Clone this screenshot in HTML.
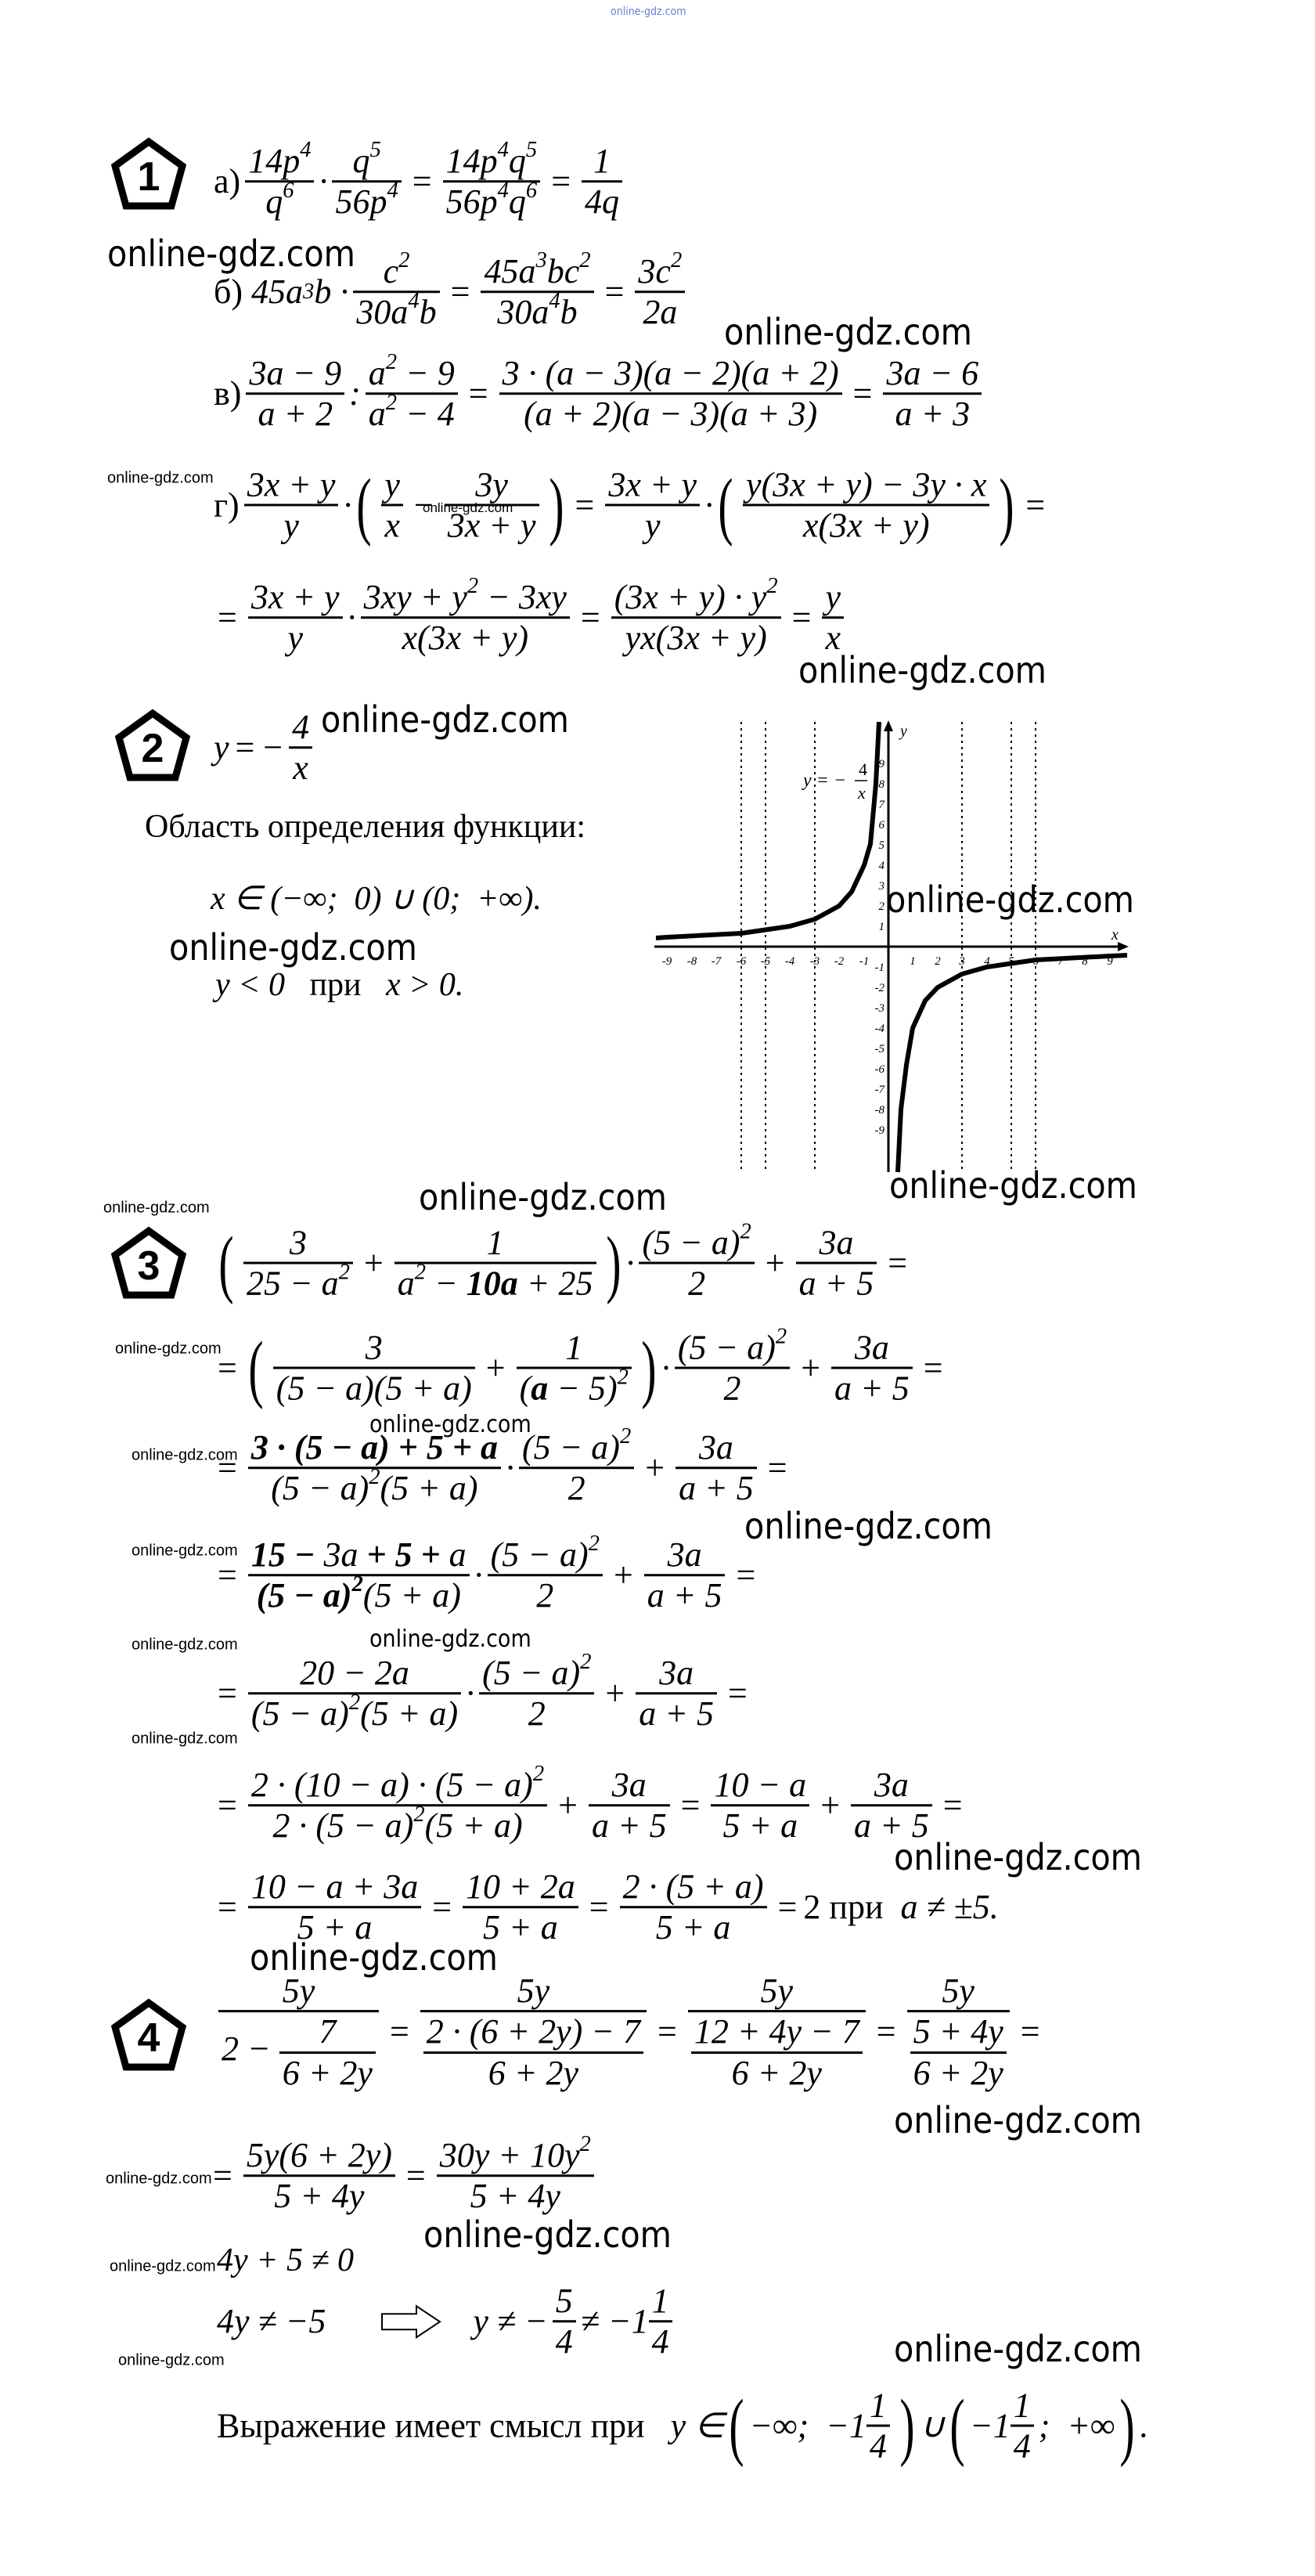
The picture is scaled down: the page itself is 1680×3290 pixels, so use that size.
<!DOCTYPE html>
<html><head><meta charset="utf-8"><style>
body{margin:0;width:1680px;height:3290px;background:#fff;position:relative;overflow:hidden;font-family:"Liberation Serif",serif;color:#000}
.l{position:absolute;display:flex;align-items:center;transform:translateY(-50%);font-size:44px;white-space:nowrap;font-style:italic}
.fr{display:inline-flex;flex-direction:column;align-items:stretch;vertical-align:middle;margin:0 6px}
.fr>span{padding:0 4px;line-height:1.12;text-align:center;display:block}
.fr>span+span{border-top:3px solid #000}
sup{font-size:0.65em;line-height:0;vertical-align:0.7em}
.n{font-style:normal}
.op{margin:0 8px;font-style:normal}
.p{font-size:96px;font-style:normal;font-weight:100;transform:scaleX(.6);display:inline-block}
.w{position:absolute;font-family:"DejaVu Sans Condensed","DejaVu Sans",sans-serif;color:#000;white-space:nowrap;transform:translateY(-80%)}
.wb{font-size:46px}
.ws{font-size:20px;font-family:"Liberation Sans Narrow","Liberation Sans",sans-serif}
.wm{font-size:30px}
.badge{position:absolute}
.t{position:absolute;font-size:42px;transform:translateY(-50%);white-space:nowrap}
</style></head><body>

<div class="w" style="left:780px;top:20px;font-size:14px;color:#6a7fd0">online-gdz.com</div>

<svg class="badge" style="left:140px;top:175px" width="100" height="95" viewBox="0 0 100 95"><polygon points="50,6 93,37 79,88 21,88 7,37" fill="none" stroke="#000" stroke-width="9"/><text x="50" y="68" text-anchor="middle" font-family="Liberation Sans" font-weight="bold" font-size="52">1</text></svg>
<svg class="badge" style="left:145px;top:905px" width="100" height="95" viewBox="0 0 100 95"><polygon points="50,6 93,37 79,88 21,88 7,37" fill="none" stroke="#000" stroke-width="9"/><text x="50" y="68" text-anchor="middle" font-family="Liberation Sans" font-weight="bold" font-size="52">2</text></svg>
<svg class="badge" style="left:140px;top:1566px" width="100" height="95" viewBox="0 0 100 95"><polygon points="50,6 93,37 79,88 21,88 7,37" fill="none" stroke="#000" stroke-width="9"/><text x="50" y="68" text-anchor="middle" font-family="Liberation Sans" font-weight="bold" font-size="52">3</text></svg>
<svg class="badge" style="left:140px;top:2552px" width="100" height="95" viewBox="0 0 100 95"><polygon points="50,6 93,37 79,88 21,88 7,37" fill="none" stroke="#000" stroke-width="9"/><text x="50" y="68" text-anchor="middle" font-family="Liberation Sans" font-weight="bold" font-size="52">4</text></svg>

<!-- task 1 -->
<div class="l" style="left:273px;top:232px"><span class="n">а)</span><span class="fr"><span>14p<sup>4</sup></span><span>q<sup>6</sup></span></span>·<span class="fr"><span>q<sup>5</sup></span><span>56p<sup>4</sup></span></span><span class="op">=</span><span class="fr"><span>14p<sup>4</sup>q<sup>5</sup></span><span>56p<sup>4</sup>q<sup>6</sup></span></span><span class="op">=</span><span class="fr"><span>1</span><span>4q</span></span></div>
<div class="w wb" style="left:137px;top:340px">online-gdz.com</div>
<div class="l" style="left:273px;top:373px"><span class="n">б)</span>&nbsp;45a<sup>3</sup>b ·<span class="fr"><span>c<sup>2</sup></span><span>30a<sup>4</sup>b</span></span><span class="op">=</span><span class="fr"><span>45a<sup>3</sup>bc<sup>2</sup></span><span>30a<sup>4</sup>b</span></span><span class="op">=</span><span class="fr"><span>3c<sup>2</sup></span><span>2a</span></span></div>
<div class="w wb" style="left:925px;top:440px">online-gdz.com</div>
<div class="l" style="left:273px;top:503px"><span class="n">в)</span><span class="fr"><span>3a − 9</span><span>a + 2</span></span>:<span class="fr"><span>a<sup>2</sup> − 9</span><span>a<sup>2</sup> − 4</span></span><span class="op">=</span><span class="fr"><span>3 · (a − 3)(a − 2)(a + 2)</span><span>(a + 2)(a − 3)(a + 3)</span></span><span class="op">=</span><span class="fr"><span>3a − 6</span><span>a + 3</span></span></div>
<div class="w ws" style="left:137px;top:618px">online-gdz.com</div>
<div class="l" style="left:273px;top:645px"><span class="n">г)</span><span class="fr"><span>3x + y</span><span>y</span></span>·<span class="p">(</span><span class="fr"><span>y</span><span>x</span></span><span class="op">−</span><span class="fr"><span>3y</span><span>3x + y</span></span><span class="p">)</span><span class="op">=</span><span class="fr"><span>3x + y</span><span>y</span></span>·<span class="p">(</span><span class="fr"><span>y(3x + y) − 3y · x</span><span>x(3x + y)</span></span><span class="p">)</span><span class="op">=</span></div>
<div class="w ws" style="left:540px;top:655px;font-size:17px">online-gdz.com</div>
<div class="l" style="left:270px;top:789px"><span class="op">=</span><span class="fr"><span>3x + y</span><span>y</span></span>·<span class="fr"><span>3xy + y<sup>2</sup> − 3xy</span><span>x(3x + y)</span></span><span class="op">=</span><span class="fr"><span>(3x + y) · y<sup>2</sup></span><span>yx(3x + y)</span></span><span class="op">=</span><span class="fr"><span>y</span><span>x</span></span></div>
<div class="w wb" style="left:1020px;top:872px">online-gdz.com</div>

<!-- task 2 -->
<div class="l" style="left:273px;top:955px">y<span class="op">=</span>−<span class="fr"><span>4</span><span>x</span></span></div>
<div class="w wb" style="left:410px;top:935px">online-gdz.com</div>
<div class="t" style="left:185px;top:1056px">Область определения функции:</div>
<div class="t" style="left:269px;top:1147px;font-style:italic">x ∈ (−∞;&nbsp; 0) ∪ (0;&nbsp; +∞).</div>
<div class="w wb" style="left:216px;top:1226px">online-gdz.com</div>
<div class="t" style="left:275px;top:1258px;font-style:italic">y &lt; 0 &nbsp;&nbsp;<span style="font-style:normal">при</span>&nbsp;&nbsp; x &gt; 0.</div>

<svg style="position:absolute;left:0;top:0" width="1680" height="1600">
<g stroke="#000" stroke-width="2" stroke-dasharray="3,5">
<line x1="947" y1="922" x2="947" y2="1497"/><line x1="978" y1="922" x2="978" y2="1497"/><line x1="1041" y1="922" x2="1041" y2="1497"/>
<line x1="1229" y1="922" x2="1229" y2="1497"/><line x1="1292" y1="922" x2="1292" y2="1497"/><line x1="1323" y1="922" x2="1323" y2="1497"/>
</g>
<line x1="836" y1="1209" x2="1435" y2="1209" stroke="#000" stroke-width="3"/>
<polygon points="1442,1209 1428,1203 1428,1215"/>
<line x1="1135" y1="1497" x2="1135" y2="928" stroke="#000" stroke-width="3"/>
<polygon points="1135,920 1129,934 1141,934"/>
<text x="1150" y="940" font-size="20" font-style="italic" font-family="Liberation Serif">y</text>
<text x="1420" y="1200" font-size="20" font-style="italic" font-family="Liberation Serif">x</text>
<g font-size="15" font-family="Liberation Serif" font-style="italic" text-anchor="middle">
<text x="852" y="1232">-9</text><text x="884" y="1232">-8</text><text x="915" y="1232">-7</text><text x="947" y="1232">-6</text><text x="978" y="1232">-5</text><text x="1009" y="1232">-4</text><text x="1041" y="1232">-3</text><text x="1072" y="1232">-2</text><text x="1104" y="1232">-1</text>
<text x="1166" y="1232">1</text><text x="1198" y="1232">2</text><text x="1229" y="1232">3</text><text x="1261" y="1232">4</text><text x="1292" y="1232">5</text><text x="1323" y="1232">6</text><text x="1355" y="1232">7</text><text x="1386" y="1232">8</text><text x="1418" y="1232">9</text>
</g>
<g font-size="15" font-family="Liberation Serif" font-style="italic" text-anchor="end">
<text x="1130" y="1188">1</text><text x="1130" y="1162">2</text><text x="1130" y="1136">3</text><text x="1130" y="1110">4</text><text x="1130" y="1084">5</text><text x="1130" y="1058">6</text><text x="1130" y="1032">7</text><text x="1130" y="1006">8</text><text x="1130" y="980">9</text>
<text x="1130" y="1240">-1</text><text x="1130" y="1266">-2</text><text x="1130" y="1292">-3</text><text x="1130" y="1318">-4</text><text x="1130" y="1344">-5</text><text x="1130" y="1370">-6</text><text x="1130" y="1396">-7</text><text x="1130" y="1422">-8</text><text x="1130" y="1448">-9</text>
</g>
<text x="1026" y="1004" font-size="24" font-style="italic" font-family="Liberation Serif">y = −</text>
<text x="1097" y="990" font-size="22" font-family="Liberation Serif">4</text>
<line x1="1092" y1="997" x2="1108" y2="997" stroke="#000" stroke-width="1.5"/>
<text x="1096" y="1020" font-size="22" font-style="italic" font-family="Liberation Serif">x</text>
<path fill="none" stroke="#000" stroke-width="6" d="M838,1198 L852,1197 L947,1192 L1009,1183 L1041,1174 L1072,1157 L1088,1139 L1104,1105 L1112,1078 L1119,1001 L1123,922"/>
<path fill="none" stroke="#000" stroke-width="6" d="M1147,1497 L1151,1417 L1158,1360 L1166,1313 L1182,1278 L1198,1261 L1229,1244 L1261,1235 L1323,1226 L1418,1221 L1440,1220"/>
</svg>
<div class="w wb" style="left:1132px;top:1165px">online-gdz.com</div>
<div class="w wb" style="left:1136px;top:1530px">online-gdz.com</div>
<div class="w wb" style="left:535px;top:1545px">online-gdz.com</div>
<div class="w ws" style="left:132px;top:1550px">online-gdz.com</div>

<!-- task 3 -->
<div class="l" style="left:273px;top:1613px"><span class="p">(</span><span class="fr"><span>3</span><span>25 − a<sup>2</sup></span></span><span class="op">+</span><span class="fr"><span>1</span><span>a<sup>2</sup> − <b>10a</b> + 25</span></span><span class="p">)</span>·<span class="fr"><span>(5 − a)<sup>2</sup></span><span>2</span></span><span class="op">+</span><span class="fr"><span>3a</span><span>a + 5</span></span><span class="op">=</span></div>
<div class="w ws" style="left:147px;top:1730px">online-gdz.com</div>
<div class="l" style="left:270px;top:1747px"><span class="op">=</span><span class="p">(</span><span class="fr"><span>3</span><span>(5 − a)(5 + a)</span></span><span class="op">+</span><span class="fr"><span>1</span><span>(<b>a</b> − 5)<sup>2</sup></span></span><span class="p">)</span>·<span class="fr"><span>(5 − a)<sup>2</sup></span><span>2</span></span><span class="op">+</span><span class="fr"><span>3a</span><span>a + 5</span></span><span class="op">=</span></div>
<div class="w wm" style="left:472px;top:1830px">online-gdz.com</div>
<div class="w ws" style="left:168px;top:1866px">online-gdz.com</div>
<div class="l" style="left:270px;top:1875px"><span class="op">=</span><span class="fr"><span><b>3 · (5 − a) + 5 + a</b></span><span>(5 − a)<sup>2</sup>(5 + a)</span></span>·<span class="fr"><span>(5 − a)<sup>2</sup></span><span>2</span></span><span class="op">+</span><span class="fr"><span>3a</span><span>a + 5</span></span><span class="op">=</span></div>
<div class="w wb" style="left:951px;top:1965px">online-gdz.com</div>
<div class="w ws" style="left:168px;top:1988px">online-gdz.com</div>
<div class="l" style="left:270px;top:2012px"><span class="op">=</span><span class="fr"><span><b>15 − </b>3a<b> + 5 + </b>a</span><span><b>(5 − a)<sup>2</sup></b>(5 + a)</span></span>·<span class="fr"><span>(5 − a)<sup>2</sup></span><span>2</span></span><span class="op">+</span><span class="fr"><span>3a</span><span>a + 5</span></span><span class="op">=</span></div>
<div class="w wm" style="left:472px;top:2104px">online-gdz.com</div>
<div class="w ws" style="left:168px;top:2108px">online-gdz.com</div>
<div class="l" style="left:270px;top:2163px"><span class="op">=</span><span class="fr"><span>20 − 2a</span><span>(5 − a)<sup>2</sup>(5 + a)</span></span>·<span class="fr"><span>(5 − a)<sup>2</sup></span><span>2</span></span><span class="op">+</span><span class="fr"><span>3a</span><span>a + 5</span></span><span class="op">=</span></div>
<div class="w ws" style="left:168px;top:2228px">online-gdz.com</div>
<div class="l" style="left:270px;top:2306px"><span class="op">=</span><span class="fr"><span>2 · (10 − a) · (5 − a)<sup>2</sup></span><span>2 · (5 − a)<sup>2</sup>(5 + a)</span></span><span class="op">+</span><span class="fr"><span>3a</span><span>a + 5</span></span><span class="op">=</span><span class="fr"><span>10 − a</span><span>5 + a</span></span><span class="op">+</span><span class="fr"><span>3a</span><span>a + 5</span></span><span class="op">=</span></div>
<div class="w wb" style="left:1142px;top:2388px">online-gdz.com</div>
<div class="l" style="left:270px;top:2436px"><span class="op">=</span><span class="fr"><span>10 − a + 3a</span><span>5 + a</span></span><span class="op">=</span><span class="fr"><span>10 + 2a</span><span>5 + a</span></span><span class="op">=</span><span class="fr"><span>2 · (5 + a)</span><span>5 + a</span></span><span class="op">=</span><span class="n">2 при</span>&nbsp; a ≠ ±5.</div>
<div class="w wb" style="left:319px;top:2516px">online-gdz.com</div>

<!-- task 4 -->
<div class="l" style="left:273px;top:2595px"><span class="fr"><span>5y</span><span>2 − <span class="fr" style="margin:0;display:inline-flex"><span>7</span><span>6 + 2y</span></span></span></span><span class="op">=</span><span class="fr"><span>5y</span><span><span class="fr" style="margin:0"><span>2 · (6 + 2y) − 7</span><span>6 + 2y</span></span></span></span><span class="op">=</span><span class="fr"><span>5y</span><span><span class="fr" style="margin:0"><span>12 + 4y − 7</span><span>6 + 2y</span></span></span></span><span class="op">=</span><span class="fr"><span>5y</span><span><span class="fr" style="margin:0"><span>5 + 4y</span><span>6 + 2y</span></span></span></span><span class="op">=</span></div>
<div class="w wb" style="left:1142px;top:2724px">online-gdz.com</div>
<div class="w ws" style="left:135px;top:2790px">online-gdz.com</div>
<div class="l" style="left:272px;top:2779px"><span class="op" style="margin-left:0">=</span><span class="fr"><span>5y(6 + 2y)</span><span>5 + 4y</span></span><span class="op">=</span><span class="fr"><span>30y + 10y<sup>2</sup></span><span>5 + 4y</span></span></div>
<div class="w wb" style="left:541px;top:2870px">online-gdz.com</div>
<div class="t" style="left:277px;top:2887px;font-style:italic">4y + 5 ≠ 0</div>
<div class="w ws" style="left:140px;top:2902px">online-gdz.com</div>
<div class="l" style="left:277px;top:2965px">4y ≠ −5<svg style="margin:0 40px 0 70px" width="78" height="44" viewBox="0 0 78 44"><polygon points="2,12 46,12 46,2 76,22 46,42 46,32 2,32" fill="none" stroke="#000" stroke-width="2"/></svg>y ≠ −<span class="fr"><span>5</span><span>4</span></span>≠ −1<span class="fr" style="margin-left:0"><span>1</span><span>4</span></span></div>
<div class="w wb" style="left:1142px;top:3016px">online-gdz.com</div>
<div class="w ws" style="left:151px;top:3022px">online-gdz.com</div>
<div class="l" style="left:277px;top:3098px"><span class="n">Выражение имеет смысл при</span>&nbsp;&nbsp; y ∈<span class="p">(</span>−∞;&nbsp; −1<span class="fr" style="margin-left:0"><span>1</span><span>4</span></span><span class="p">)</span>∪<span class="p">(</span>−1<span class="fr" style="margin-left:0"><span>1</span><span>4</span></span>;&nbsp; +∞<span class="p">)</span>.</div>

</body></html>
